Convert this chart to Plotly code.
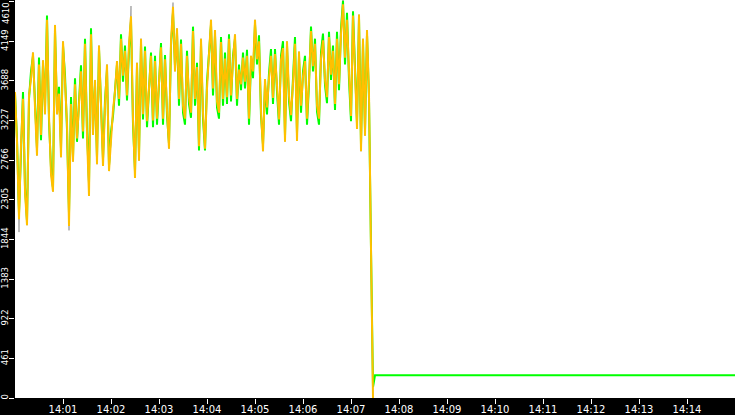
import pandas as pd
import plotly.graph_objects as go

# samples every 2.5 s starting 14:00:00
start_time = "2024-01-01 14:00:00"
end_time = "2024-01-01 14:15:00"
sample_step = "2500ms"

orange_vals = [
    3560, 2980, 2080, 2950, 3480, 2400, 2010, 3520, 3710, 4020,
    3380, 2820, 3880, 3060, 3930, 3300, 4400, 3280, 2600, 2400,
    4340, 3300, 3540, 2800, 4150, 3680, 3200, 2000, 3420, 2750,
    3650, 3020, 3380, 3800, 3100, 4120, 3050, 2350, 4230, 3060,
    3700, 2720, 4100, 3280, 2700, 3400, 3880, 2640, 3020, 3350,
    3560, 3920, 3480, 4180, 3750, 4040, 3520, 4120, 4440, 3250,
    2560, 3900, 2760, 4180, 3300, 4040, 3220, 3600, 3980, 3230,
    3920, 3250, 3700, 4080, 3250, 3940, 3350, 2900, 4150, 4550,
    3800, 4300, 3480, 4120, 3400, 3250, 3980, 3500, 3320, 4270,
    3480, 3850, 2930, 4180, 3320, 2900, 3600, 4050, 4400, 3600,
    4280, 3450, 3320, 4140, 3480, 3950, 3500, 4180, 3520, 3920,
    4230, 3480, 3820, 3650, 3960, 3680, 3980, 3250, 3980, 3800,
    4400, 3940, 4150, 3340, 2870, 3710, 3380, 3720, 3980, 3490,
    4000, 3640, 3240, 3930, 4070, 2980, 4150, 3520, 3290, 3660,
    4120, 2990, 4030, 3400, 3740, 3920, 3250, 3700, 4270, 3860,
    4120, 3400, 3250, 3950, 4160, 3700, 3500, 4200, 3760, 4040,
    3420, 4180, 3650, 4230, 4580, 3960, 4400, 3780, 3280, 4450,
    3850, 3130, 4460, 2870, 4180, 3050, 4280, 3530, 1735, 0,
]

green_vals = [
    3540, 3010, 2150, 2900, 3560, 2450, 2060, 3480, 3800, 3980,
    3420, 2900, 3960, 3000, 3880, 3380, 4450, 3220, 2680, 2450,
    4280, 3360, 3620, 2900, 4100, 3760, 3120, 2150, 3500, 2800,
    3720, 2980, 3450, 3870, 3020, 4180, 3120, 2500, 4300, 3120,
    3640, 2800, 4060, 3350, 2780, 3460, 3820, 2700, 3100, 3280,
    3620, 3880, 3400, 4230, 3680, 4100, 3460, 4060, 4380, 3180,
    2640, 3860, 2850, 4120, 3240, 4090, 3150, 3680, 4020, 3150,
    3980, 3180, 3640, 4130, 3180, 3990, 3280, 2960, 4100, 4480,
    3860, 4250, 3400, 4170, 3320, 3180, 4040, 3420, 3260, 4320,
    3400, 3900, 2880, 4120, 3250, 2880, 3680, 4000, 4340, 3520,
    4220, 3380, 3250, 4200, 3400, 4020, 3420, 4230, 3450, 3980,
    4180, 3400, 3880, 3580, 4020, 3600, 4050, 3180, 3920, 3720,
    4350, 3880, 4220, 3280, 2950, 3650, 3300, 3780, 4060, 3420,
    4060, 3560, 3180, 3980, 4150, 3050, 4100, 3450, 3220, 3720,
    4200, 3080, 3980, 3320, 3800, 3980, 3180, 3650, 4320, 3800,
    4180, 3330, 3180, 4020, 4240, 3640, 3430, 4260, 3700, 4100,
    3350, 4260, 3580, 4300, 4620, 3880, 4480, 3700, 3220, 4500,
    3800, 3200, 4420, 2950, 4130, 3120, 4230, 3480, 1735, 128,
    264,
]
green_last = 264

# gray mostly hides behind the other two, a few spikes stick out
gray_vals = [
    3560, 2980, 1930, 2950, 3480, 2400, 2010, 3520, 3710, 4020,
    3380, 2820, 3880, 3060, 3930, 3300, 4400, 3280, 2600, 2400,
    4340, 3300, 3540, 2800, 4150, 3680, 3200, 1950, 3420, 2750,
    3650, 3020, 3380, 3800, 3100, 4120, 3050, 2350, 4230, 3060,
    3700, 2720, 4100, 3280, 2700, 3400, 3880, 2640, 3020, 3350,
    3560, 3920, 3480, 4180, 3750, 4040, 3520, 4120, 4560, 3250,
    2560, 3900, 2760, 4180, 3300, 4040, 3220, 3600, 3980, 3230,
    3920, 3250, 3700, 4080, 3250, 3940, 3350, 2900, 4150, 4600,
    3800, 4300, 3480, 4120, 3400, 3250, 3980, 3500, 3320, 4270,
    3480, 3850, 2930, 4180, 3320, 2900, 3600, 4050, 4400, 3600,
    4280, 3450, 3320, 4140, 3480, 3950, 3500, 4180, 3520, 3920,
    4230, 3480, 3820, 3650, 3960, 3680, 3980, 3250, 3980, 3800,
    4400, 3940, 4150, 3340, 2870, 3710, 3380, 3720, 3980, 3490,
    4000, 3640, 3240, 3930, 4070, 2980, 4150, 3520, 3290, 3660,
    4120, 2990, 4030, 3400, 3740, 3920, 3250, 3700, 4270, 3860,
    4120, 3400, 3250, 3950, 4160, 3700, 3500, 4200, 3760, 4040,
    3420, 4180, 3650, 4230, 4640, 3960, 4400, 3780, 3280, 4450,
    3850, 3130, 4460, 2870, 4180, 3050, 4280, 3530, 1735, 0,
]

y_tick_vals = [0, 461, 922, 1383, 1844, 2305, 2766, 3227, 3688, 4149, 4610]
y_tick_text = ["0", "461", "922", "1383", "1844", "2305", "2766", "3227", "3688", "4149", ""]
y_top_label = "4610"
x_tick_vals = ["2024-01-01 14:%02d:00" % m for m in range(1, 15)]
x_tick_text = ["14:%02d" % m for m in range(1, 15)]

times = pd.date_range(start_time, periods=len(green_vals), freq=sample_step)
orange_x = times[:len(orange_vals)]
gray_x = times[:len(gray_vals)]
green_x = list(times) + [pd.Timestamp(end_time)]
green_y = green_vals + [green_last]

fig = go.Figure()
fig.add_trace(go.Scatter(x=gray_x, y=gray_vals, mode="lines",
                         line=dict(color="#a8a8a8", width=1)))
fig.add_trace(go.Scatter(x=green_x, y=green_y, mode="lines",
                         line=dict(color="#00ff00", width=2)))
fig.add_trace(go.Scatter(x=orange_x, y=orange_vals, mode="lines",
                         line=dict(color="#ffc000", width=2)))

# top label sits inside the canvas, like the original tool draws it
fig.add_annotation(text=y_top_label, textangle=-90, xref="paper", yref="paper",
                   x=-0.0125, y=1.0, xanchor="center", yanchor="top",
                   showarrow=False,
                   font=dict(color="white", size=8.5, family="DejaVu Sans"))

fig.update_xaxes(
    type="date",
    range=[start_time, end_time],
    tickvals=x_tick_vals,
    ticktext=x_tick_text,
    ticks="outside",
    ticklen=5,
    tickwidth=1,
    tickcolor="white",
    tickfont=dict(color="white", size=10, family="DejaVu Sans"),
    ticklabelstandoff=-3,
    showgrid=False,
    zeroline=False,
    showline=False,
    automargin=False,
)
fig.update_yaxes(
    range=[0, 4630],
    tickvals=y_tick_vals,
    ticktext=y_tick_text,
    tickangle=-90,
    ticks="outside",
    ticklen=5,
    tickwidth=1,
    tickcolor="white",
    tickfont=dict(color="white", size=8.5, family="DejaVu Sans"),
    ticklabelstandoff=-2,
    showgrid=False,
    zeroline=False,
    showline=False,
    automargin=False,
)
fig.update_layout(
    width=735,
    height=415,
    paper_bgcolor="black",
    plot_bgcolor="white",
    showlegend=False,
    margin=dict(l=15, r=0, t=0, b=17),
)
fig.write_html(
    "out.html",
    config={"displayModeBar": False},
    post_script="document.body.style.margin='0';document.body.style.overflow='hidden';",
)
